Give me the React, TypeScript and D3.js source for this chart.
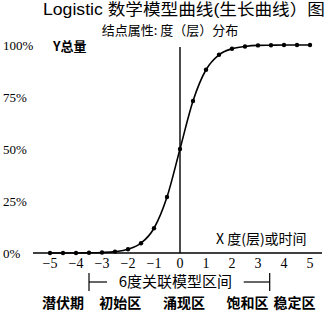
import * as d3 from "d3";

const xValues = [-5, -4.5, -4, -3.5, -3, -2.5, -2, -1.5, -1, -0.5, 0, 0.5, 1, 1.5, 2, 2.5, 3, 3.5, 4, 4.5, 5];
const yValues = [0, 0.0001, 0.0003, 0.0009, 0.0025, 0.0067, 0.018, 0.047, 0.119, 0.269, 0.5, 0.731, 0.881, 0.953, 0.982, 0.993, 0.998, 0.999, 1, 1, 1];
const xTicks = [-5, -4, -3, -2, -1, 0, 1, 2, 3, 4, 5];
const yLabels = [
  { v: 1, t: "100%" },
  { v: 0.75, t: "75%" },
  { v: 0.5, t: "50%" },
  { v: 0.25, t: "25%" },
  { v: 0, t: "0%" },
];
const zones = [
  { name: "潜伏期", at: -4.5 },
  { name: "初始区", at: -2.3 },
  { name: "涌现区", at: 0.15 },
  { name: "饱和区", at: 2.6 },
  { name: "稳定区", at: 4.4 },
];
const bracket = [-3.5, 3.45];

const W = 329;
const H = 312;
const serif = "'Liberation Serif', 'Noto Sans CJK SC', serif";
const cjk = "'Noto Sans CJK SC', 'Liberation Serif', serif";

export default function App() {
  const x = d3.scaleLinear().domain([-5, 5]).range([50, 310]);
  const y = d3.scaleLinear().domain([0, 1]).range([253, 45]);
  const pts = xValues.map((v, i) => [v, yValues[i]] as [number, number]);
  const line = d3
    .line<[number, number]>()
    .x((d) => x(d[0]))
    .y((d) => y(d[1]))
    .curve(d3.curveMonotoneX);

  const bY = 282;
  const bL = x(bracket[0]);
  const bR = x(bracket[1]);

  return (
    <svg
      width={W}
      height={H}
      style={{ position: "absolute", left: 0, top: 0, background: "#fff" }}
    >
      <text x={43} y={15} fontSize={16} textLength={282} lengthAdjust="spacingAndGlyphs" fontFamily="'Liberation Sans', 'Noto Sans CJK SC', sans-serif" fill="#000">
        Logistic 数学模型曲线(生长曲线）图
      </text>
      <text x={170} y={35} textAnchor="middle" fontSize={13} fontFamily={cjk} fill="#000">
        结点属性: 度（层）分布
      </text>

      {/* axes */}
      <line x1={33} x2={322} y1={y(0)} y2={y(0)} stroke="#000" strokeWidth={1.6} />
      <line x1={x(0)} x2={x(0)} y1={y(1) + 2} y2={y(0)} stroke="#000" strokeWidth={1.4} />

      {yLabels.map((d) => (
        <text key={d.t} x={3} y={y(d.v) + 5} fontSize={13} fontFamily={serif} fill="#000">
          {d.t}
        </text>
      ))}
      <text x={53} y={51} fontSize={13} fontFamily={cjk} fontWeight="bold" fill="#000">
        Y总量
      </text>
      <text x={216} y={244} fontSize={14} fontFamily={cjk} fill="#000">
        X 度(层)或时间
      </text>

      {xTicks.map((t) => (
        <text key={t} x={x(t)} y={268} textAnchor="middle" fontSize={14} fontFamily={serif} fill="#000">
          {t < 0 ? `\u2212${-t}` : t}
        </text>
      ))}

      <path d={line(pts) ?? ""} fill="none" stroke="#000" strokeWidth={1.6} />
      {pts.map((d, i) => (
        <circle key={i} cx={x(d[0])} cy={y(d[1])} r={2.2} fill="#000" />
      ))}

      {/* bracket */}
      <line x1={bL} x2={bL} y1={bY - 9} y2={bY + 9} stroke="#000" strokeWidth={1.2} />
      <line x1={bR} x2={bR} y1={bY - 9} y2={bY + 9} stroke="#000" strokeWidth={1.2} />
      <line x1={bL} x2={bL + 18} y1={bY} y2={bY} stroke="#000" strokeWidth={1.2} />
      <line x1={bR - 26} x2={bR} y1={bY} y2={bY} stroke="#000" strokeWidth={1.2} />
      <text x={(bL + 18 + bR - 26) / 2} y={bY + 5} textAnchor="middle" fontSize={15} fontFamily={cjk} fill="#000">
        6度关联模型区间
      </text>

      {zones.map((z) => (
        <text key={z.name} x={x(z.at)} y={308} textAnchor="middle" fontSize={14} fontFamily={cjk} fontWeight="bold" fill="#000">
          {z.name}
        </text>
      ))}
    </svg>
  );
}
